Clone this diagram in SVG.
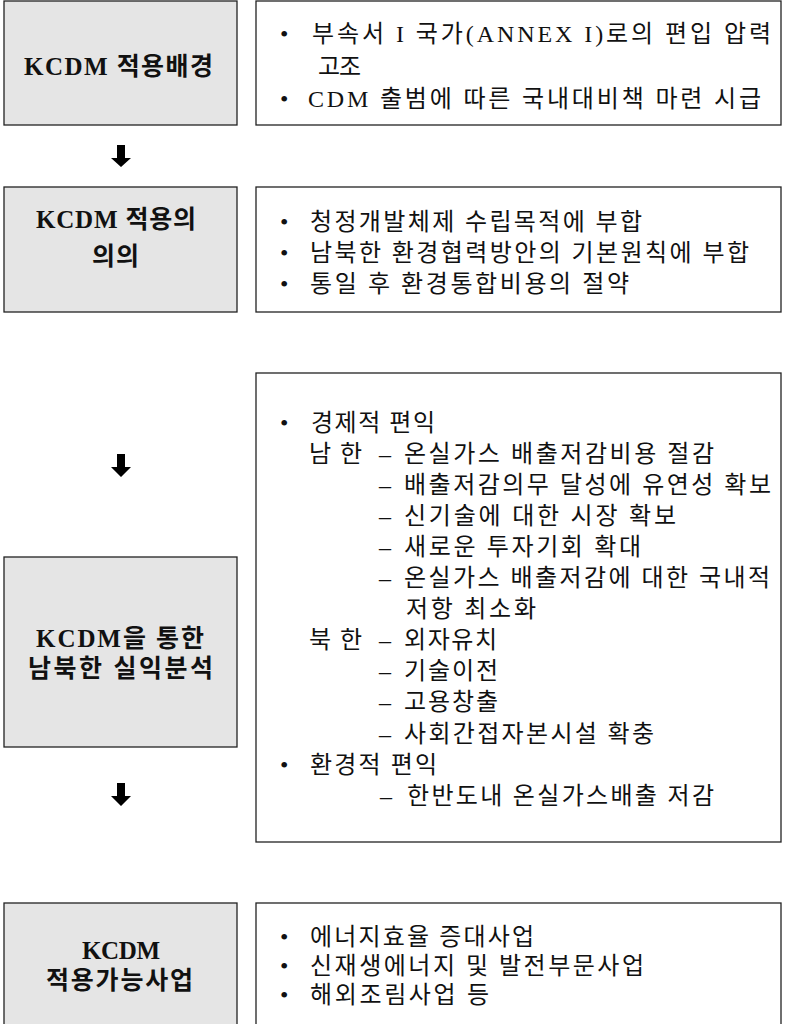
<svg xmlns="http://www.w3.org/2000/svg" width="786" height="1024" viewBox="0 0 786 1024">
<style>
.lb{fill:#e5e5e5;stroke:#222;stroke-width:1.3}
.rb{fill:#fff;stroke:#222;stroke-width:1.3}
.lbl{font-family:"Liberation Serif","Noto Sans CJK KR",serif;font-size:25px;font-weight:bold;fill:#111}
.txt{font-family:"Liberation Serif","Noto Sans CJK KR",serif;font-size:24px;fill:#111}
.bul{font-family:"Liberation Serif",serif;font-size:24px;fill:#111}
.arr{fill:#000}
</style>
<rect width="786" height="1024" fill="#fff"/>
<g id="node-background">
<rect class="lb" x="4" y="1" width="233" height="124"/>
<text class="lbl" x="24" y="75" textLength="189">KCDM 적용배경</text>
</g>
<g id="node-background-detail">
<rect class="rb" x="256" y="1" width="525" height="124"/>
<text class="bul" x="280" y="42">•</text>
<text class="txt" x="312" y="42" textLength="459">부속서 I 국가(ANNEX I)로의 편입 압력</text>
<text class="txt" x="318" y="74.5" textLength="43">고조</text>
<text class="bul" x="280" y="106.5">•</text>
<text class="txt" x="308" y="106.5" textLength="453">CDM 출범에 따른 국내대비책 마련 시급</text>
</g>
<g id="node-significance">
<rect class="lb" x="4" y="187" width="233" height="125"/>
<text class="lbl" x="36" y="228" textLength="160">KCDM 적용의</text>
<text class="lbl" x="116" y="265" text-anchor="middle" letter-spacing="1">의의</text>
</g>
<g id="node-significance-detail">
<rect class="rb" x="256" y="187" width="525" height="125"/>
<text class="bul" x="280" y="230">•</text>
<text class="txt" x="310" y="230" textLength="332">청정개발체제 수립목적에 부합</text>
<text class="bul" x="280" y="261">•</text>
<text class="txt" x="310" y="261" textLength="439">남북한 환경협력방안의 기본원칙에 부합</text>
<text class="bul" x="280" y="292">•</text>
<text class="txt" x="310" y="292" textLength="319">통일 후 환경통합비용의 절약</text>
</g>
<g id="node-analysis">
<rect class="lb" x="4" y="557" width="233" height="190"/>
<text class="lbl" x="36" y="647" textLength="168">KCDM을 통한</text>
<text class="lbl" x="28" y="677" textLength="185">남북한 실익분석</text>
</g>
<g id="node-analysis-detail">
<rect class="rb" x="256" y="373" width="525" height="469"/>
<text class="bul" x="280" y="430.5">•</text>
<text class="txt" x="311" y="430.5" textLength="124">경제적 편익</text>
<text class="txt" x="309" y="461.6" textLength="53">남 한</text>
<text class="txt" x="379" y="461.6">–</text>
<text class="txt" x="404" y="461.6" textLength="310">온실가스 배출저감비용 절감</text>
<text class="txt" x="379" y="492.7">–</text>
<text class="txt" x="404" y="492.7" textLength="367">배출저감의무 달성에 유연성 확보</text>
<text class="txt" x="379" y="523.8">–</text>
<text class="txt" x="404" y="523.8" textLength="272">신기술에 대한 시장 확보</text>
<text class="txt" x="379" y="554.9">–</text>
<text class="txt" x="404" y="554.9" textLength="237">새로운 투자기회 확대</text>
<text class="txt" x="379" y="586">–</text>
<text class="txt" x="404" y="586" textLength="366">온실가스 배출저감에 대한 국내적</text>
<text class="txt" x="406" y="617.1" textLength="130">저항 최소화</text>
<text class="txt" x="309" y="648.2" textLength="53">북 한</text>
<text class="txt" x="379" y="648.2">–</text>
<text class="txt" x="404" y="648.2" textLength="93">외자유치</text>
<text class="txt" x="379" y="679.3">–</text>
<text class="txt" x="404" y="679.3" textLength="94">기술이전</text>
<text class="txt" x="379" y="710.4">–</text>
<text class="txt" x="404" y="710.4" textLength="94">고용창출</text>
<text class="txt" x="379" y="741.5">–</text>
<text class="txt" x="404" y="741.5" textLength="250">사회간접자본시설 확충</text>
<text class="bul" x="280" y="772.6">•</text>
<text class="txt" x="310" y="772.6" textLength="127">환경적 편익</text>
<text class="txt" x="380" y="803.7">–</text>
<text class="txt" x="407" y="803.7" textLength="307">한반도내 온실가스배출 저감</text>
</g>
<g id="node-projects">
<rect class="lb" x="4" y="903" width="233" height="130"/>
<text class="lbl" x="82" y="959" textLength="78">KCDM</text>
<text class="lbl" x="46" y="989" textLength="147">적용가능사업</text>
</g>
<g id="node-projects-detail">
<rect class="rb" x="256" y="903" width="525" height="130"/>
<text class="bul" x="280" y="945">•</text>
<text class="txt" x="310" y="945" textLength="224">에너지효율 증대사업</text>
<text class="bul" x="280" y="974">•</text>
<text class="txt" x="310" y="974" textLength="334">신재생에너지 및 발전부문사업</text>
<text class="bul" x="280" y="1003">•</text>
<text class="txt" x="310" y="1003" textLength="179">해외조림사업 등</text>
</g>
<g id="connectors">
<polygon class="arr" points="117,145 125,145 125,158 131,158 121,167 111,158 117,158"/>
<polygon class="arr" points="117,454 125,454 125,467 131,467 121,477 111,467 117,467"/>
<polygon class="arr" points="117,783 125,783 125,796 131,796 121,806 111,796 117,796"/>
</g>
</svg>
